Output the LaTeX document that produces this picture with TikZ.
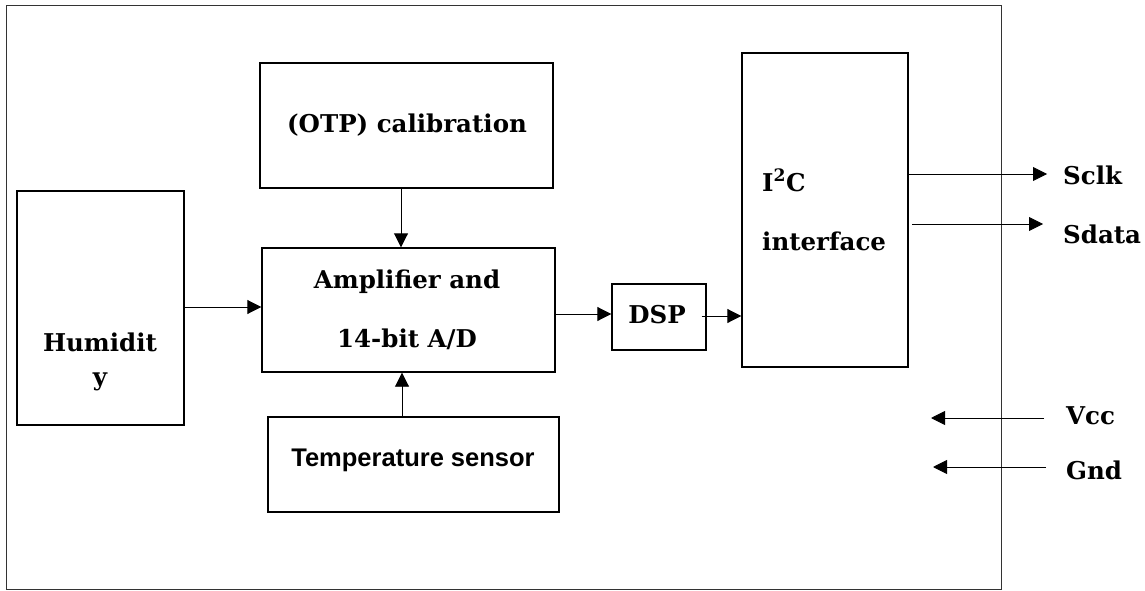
\documentclass[tikz,border=0pt]{standalone}
\usepackage{fontspec}
\setmainfont{DejaVu Serif}
\newfontfamily\arialfont{Liberation Sans}
\usetikzlibrary{arrows.meta}
\begin{document}
\begin{tikzpicture}[x=1pt,y=-1pt,
  blk/.style={draw=black,line width=1.4pt,inner sep=0pt},
  lbl/.style={font=\fontsize{24.5}{29}\selectfont\bfseries,anchor=base,inner sep=0pt},
  sanslbl/.style={font=\arialfont\fontsize{25.5}{30}\selectfont\bfseries,anchor=base,inner sep=0pt},
  arr/.style={line width=0.9pt,-{Triangle[length=14pt,width=14pt]}}]
\useasboundingbox (0,0) rectangle (1145,591);
\node[draw=black!80,line width=1pt,minimum width=995pt,minimum height=583pt,inner sep=0pt] (frame) at (503.5,297.5) {};
% blocks
\node[blk,minimum width=293pt,minimum height=125pt] (otp) at (406.5,125.5) {};
\node[blk,minimum width=293pt,minimum height=124pt] (amp) at (408.5,310) {};
\node[blk,minimum width=167pt,minimum height=234pt] (hum) at (100.5,308) {};
\node[blk,minimum width=291pt,minimum height=95pt] (temp) at (413.5,464.5) {};
\node[blk,minimum width=94pt,minimum height=66pt] (dsp) at (659,317) {};
\node[blk,minimum width=166pt,minimum height=314pt] (i2c) at (825,210) {};
% texts
\node[lbl] (otpT) at (407,132) {(OTP) calibration};
\node[lbl] (ampT1) at (407,288) {Amplifier and};
\node[lbl] (ampT2) at (407,347) {14-bit A/D};
\node[lbl] (humT1) at (100,351) {Humidit};
\node[lbl] (humT2) at (100,385) {y};
\node[sanslbl] (tempT) at (413,466) {Temperature sensor};
\node[lbl] (dspT) at (657,323) {DSP};
\node[lbl,anchor=base west] (i2cT1) at (762,191) {I\textsuperscript{2}C};
\node[lbl,anchor=base west] (i2cT2) at (762,250) {interface};
\node[lbl,anchor=base west] (sclk) at (1063,184) {Sclk};
\node[lbl,anchor=base west] (sdata) at (1063,243) {Sdata};
\node[lbl,anchor=base west] (vcc) at (1066,424) {Vcc};
\node[lbl,anchor=base west] (gnd) at (1066,479) {Gnd};
% pin coordinates
\coordinate (sclkE) at (1047,174);
\coordinate (sdataS) at (912,224);
\coordinate (sdataE) at (1043,224);
\coordinate (vccS) at (1044,418);
\coordinate (vccE) at (931,418);
\coordinate (gndS) at (1046,467);
\coordinate (gndE) at (933,467);
% connectors
\draw[arr] ([xshift=-5.5pt]otp.south) -- ([xshift=-5.5pt]otp.south |- amp.north);
\draw[arr] ([xshift=-11.5pt]temp.north) -- ([xshift=-11.5pt]temp.north |- amp.south);
\draw[arr] ([yshift=1pt]hum.east) -- ([yshift=1pt]hum.east -| amp.west);
\draw[arr] ([yshift=-4pt]amp.east) -- ([yshift=-4pt]amp.east -| dsp.west);
\draw[arr] ([xshift=-5pt,yshift=1pt]dsp.east) -- ([yshift=1pt]dsp.east -| i2c.west);
\draw[arr] ([yshift=36pt]i2c.east) -- (sclkE);
\draw[arr] (sdataS) -- (sdataE);
\draw[arr] (vccS) -- (vccE);
\draw[arr] (gndS) -- (gndE);
\end{tikzpicture}
\end{document}
